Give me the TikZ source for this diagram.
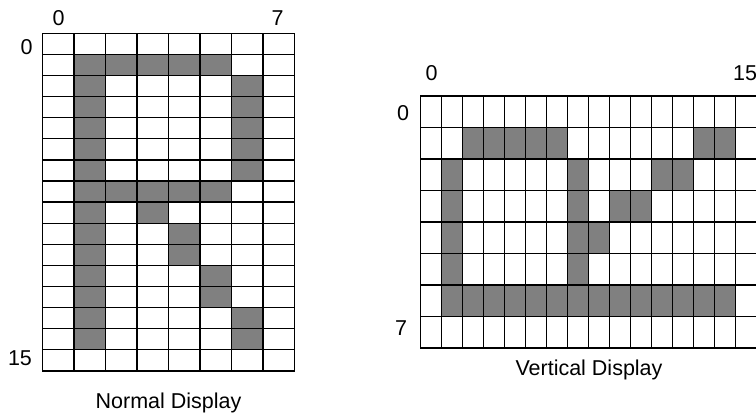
\documentclass[tikz,border=0pt]{standalone}
\usepackage{fontspec}
\setmainfont{Liberation Sans}
\tikzset{
	pix/.style={fill=black!50},
	cell/.style={line width=1.3pt,line cap=rect},
	lbl/.style={inner sep=0pt,anchor=base,font=\fontsize{21.5}{24}\selectfont}
}
\begin{document}
\begin{tikzpicture}[x=1pt,y=-1pt]
	\useasboundingbox (0,0) rectangle (756,415);
	\begin{scope}[shift={(42.5,33.3)},x=31.5pt,y=-21.1pt]
		\foreach \r in {1,...,14} \fill[pix] (1,\r) rectangle ++(1,1);
		\foreach \c in {2,...,5} {
			\fill[pix] (\c,1) rectangle ++(1,1);
			\fill[pix] (\c,7) rectangle ++(1,1);
		}
		\foreach \r in {2,...,6} \fill[pix] (6,\r) rectangle ++(1,1);
		\foreach \r/\c in {8/3,9/4,10/4,11/5,12/5,13/6,14/6} \fill[pix] (\c,\r) rectangle ++(1,1);
		\foreach \i in {0,...,8} \draw[cell] (\i,0) -- (\i,16);
		\foreach \j in {0,...,16} \draw[cell] (0,\j) -- (8,\j);
	\end{scope}
	\begin{scope}[shift={(420.7,96)},x=21pt,y=-31.5pt]
		\foreach \r in {2,...,6} {
			\fill[pix] (1,\r) rectangle ++(1,1);
			\fill[pix] (7,\r) rectangle ++(1,1);
		}
		\foreach \c in {2,...,14} \fill[pix] (\c,6) rectangle ++(1,1);
		\foreach \c/\r in {2/1,3/1,4/1,5/1,6/1,13/1,14/1,11/2,12/2,9/3,10/3,8/4} \fill[pix] (\c,\r) rectangle ++(1,1);
		\foreach \i in {0,...,16} \draw[cell] (\i,0) -- (\i,8);
		\foreach \j in {0,...,8} \draw[cell] (0,\j) -- (16,\j);
	\end{scope}
	\node[lbl] (ncol0) at (58.5,25) {0};
	\node[lbl] (ncol7) at (277.7,25) {7};
	\node[lbl] (nrow0) at (26.5,54.5) {0};
	\node[lbl] (nrow15) at (20,365) {15};
	\node[lbl] (normal) at (168.5,408) {Normal Display};
	\node[lbl] (vcol0) at (431.5,80) {0};
	\node[lbl] (vcol15) at (745,80) {15};
	\node[lbl] (vrow0) at (403,120) {0};
	\node[lbl] (vrow7) at (401,335) {7};
	\node[lbl] (vertical) at (589,375) {Vertical Display};
\end{tikzpicture}
\end{document}
